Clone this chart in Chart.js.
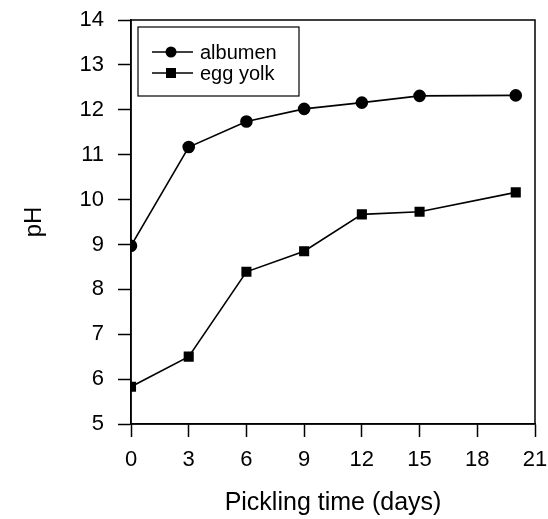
<!DOCTYPE html>
<html>
<head>
<meta charset="utf-8">
<script src="https://cdn.jsdelivr.net/npm/chart.js@4"></script>
<style>
  html, body { margin: 0; padding: 0; background: #fff; }
  #wrap { width: 548px; height: 519px; }
</style>
</head>
<body>
<div id="wrap"><canvas id="phChart" width="548" height="519"></canvas></div>
<script>
// pH of pickled egg over pickling time
var days = [0, 3, 6, 9, 12, 15, 20];
var albumen = [8.97, 11.17, 11.74, 12.02, 12.16, 12.31, 12.32];
var eggYolk = [5.83, 6.50, 8.39, 8.85, 9.67, 9.73, 10.16];
var xTicks = [0, 3, 6, 9, 12, 15, 18, 21];
var yTicks = [5, 6, 7, 8, 9, 10, 11, 12, 13, 14];

var FONT = 'Liberation Sans, Arial, sans-serif';

function toPoints(xs, ys) {
  return xs.map(function (x, i) { return { x: x, y: ys[i] }; });
}

// box round the plot area + legend box with line/marker samples
var frameAndLegend = {
  id: 'frameAndLegend',
  afterDatasetsDraw: function (chart) {
    var ctx = chart.ctx;
    var a = chart.chartArea;
    ctx.save();
    ctx.strokeStyle = '#000';
    ctx.lineWidth = 1.5;
    ctx.strokeRect(a.left, a.top, a.right - a.left, a.bottom - a.top);

    // legend
    var bx = a.left + 7, by = a.top + 7, bw = 161, bh = 69;
    ctx.lineWidth = 1.2;
    ctx.fillStyle = '#fff';
    ctx.fillRect(bx, by, bw, bh);
    ctx.strokeRect(bx, by, bw, bh);

    ctx.font = '20px ' + FONT;
    ctx.textBaseline = 'middle';
    chart.data.datasets.forEach(function (ds, i) {
      var ly = by + 25 + i * 21;
      ctx.strokeStyle = '#000';
      ctx.lineWidth = 1.5;
      ctx.beginPath();
      ctx.moveTo(bx + 14, ly);
      ctx.lineTo(bx + 55, ly);
      ctx.stroke();
      ctx.fillStyle = '#000';
      var mx = bx + 33;
      if (ds.pointStyle === 'rect') {
        ctx.fillRect(mx - 5, ly - 5, 10, 10);
      } else {
        ctx.beginPath();
        ctx.arc(mx, ly, 5.5, 0, Math.PI * 2);
        ctx.fill();
      }
      ctx.fillText(ds.label, bx + 62, ly + 1);
    });
    ctx.restore();
  }
};

var ctx = document.getElementById('phChart').getContext('2d');
var chart = new Chart(ctx, {
  type: 'scatter',
  data: {
    datasets: [
      {
        label: 'albumen',
        data: toPoints(days, albumen),
        showLine: true,
        borderColor: '#000',
        borderWidth: 1.6,
        backgroundColor: '#000',
        pointStyle: 'circle',
        pointRadius: 5.5,
        pointHoverRadius: 5.5
      },
      {
        label: 'egg yolk',
        data: toPoints(days, eggYolk),
        showLine: true,
        borderColor: '#000',
        borderWidth: 1.6,
        backgroundColor: '#000',
        pointStyle: 'rect',
        pointRadius: 6,
        pointHoverRadius: 6
      }
    ]
  },
  options: {
    responsive: false,
    animation: false,
    layout: { padding: { top: 20, right: 13, bottom: 0, left: 0 } },
    plugins: {
      legend: { display: false },
      tooltip: { enabled: false }
    },
    scales: {
      x: {
        type: 'linear',
        min: 0,
        max: 21,
        afterBuildTicks: function (scale) {
          scale.ticks = xTicks.map(function (v) { return { value: v }; });
        },
        afterFit: function (scale) {
          scale.height = 95;
          scale.paddingLeft = 0;
          scale.paddingRight = 0;
        },
        border: { display: true, color: '#000', width: 1.5 },
        grid: { drawOnChartArea: false, drawTicks: true, tickLength: 13, tickColor: '#000', tickWidth: 1.5 },
        ticks: { color: '#000', font: { family: FONT, size: 22 }, padding: 10, maxRotation: 0 },
        title: { display: true, text: 'Pickling time (days)', color: '#000', font: { family: FONT, size: 25 }, padding: { bottom: 1 } }
      },
      y: {
        type: 'linear',
        min: 5,
        max: 14,
        afterBuildTicks: function (scale) {
          scale.ticks = yTicks.map(function (v) { return { value: v }; });
        },
        afterFit: function (scale) {
          scale.width = 131;
          scale.paddingTop = 0;
          scale.paddingBottom = 0;
        },
        border: { display: true, color: '#000', width: 1.5 },
        grid: { drawOnChartArea: false, drawTicks: true, tickLength: 13, tickColor: '#000', tickWidth: 1.5 },
        ticks: { color: '#000', font: { family: FONT, size: 22 }, padding: 14 },
        title: { display: true, text: 'pH', color: '#000', font: { family: FONT, size: 24 }, padding: { top: 20 } }
      }
    }
  },
  plugins: [frameAndLegend]
});
</script>
</body>
</html>
